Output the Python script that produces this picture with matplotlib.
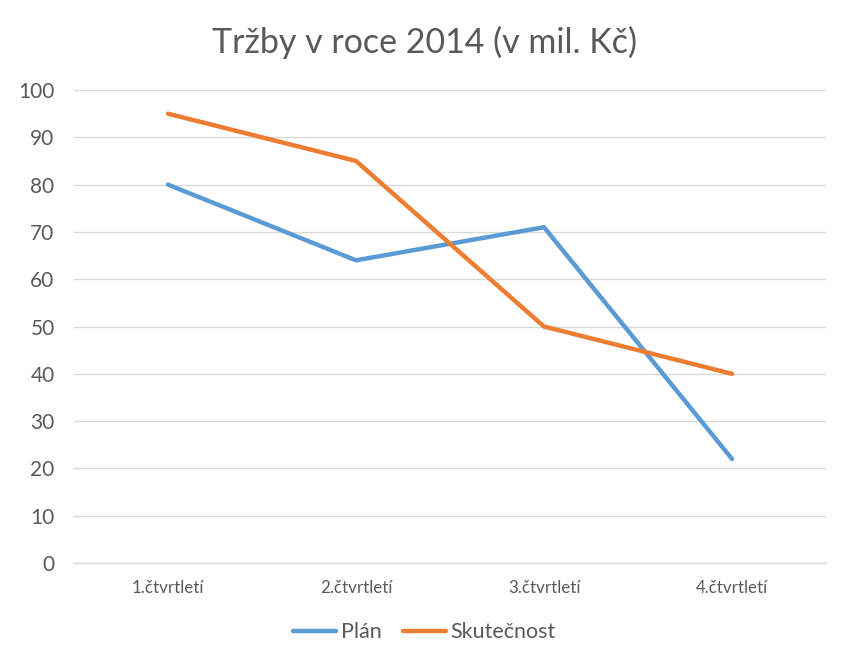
import matplotlib
matplotlib.use("Agg")
import matplotlib.pyplot as plt

categories = ["1.čtvrtletí", "2.čtvrtletí", "3.čtvrtletí", "4.čtvrtletí"]
plan = [80, 64, 71, 22]
skutecnost = [95, 85, 50, 40]
yticks = [0, 10, 20, 30, 40, 50, 60, 70, 80, 90, 100]

plt.rcParams['font.family'] = ['Lato', 'DejaVu Sans']
txt = '#595959'

fig = plt.figure(figsize=(8.49, 6.67), dpi=100)
ax = fig.add_axes([0.0872, 0.1559, 0.8857, 0.7091])
x = list(range(len(categories)))
ax.plot(x, plan, color='#5B9BD5', lw=3.2, label='Plán', solid_capstyle='round')
ax.plot(x, skutecnost, color='#ED7D31', lw=3.2, label='Skutečnost', solid_capstyle='round')
ax.set_xlim(-0.5, 3.5)
ax.set_ylim(0, 100)
ax.set_yticks(yticks)
ax.set_xticks(x)
ax.set_xticklabels(categories, fontsize=12.2, color=txt)
ax.tick_params(axis='y', labelsize=15, labelcolor=txt, length=0, pad=14)
ax.tick_params(axis='x', length=0, pad=12)
ax.grid(axis='y', color='#D9D9D9', lw=1)
ax.set_axisbelow(True)
for s in ['top', 'right', 'left']:
    ax.spines[s].set_visible(False)
ax.spines['bottom'].set_color('#D9D9D9')
ax.spines['bottom'].set_linewidth(1)
fig.text(0.5, 0.937, 'Tržby v roce 2014 (v mil. Kč)', ha='center', va='center', fontsize=24.5, color=txt)
leg = fig.legend(loc='center', bbox_to_anchor=(0.5, 0.052), ncol=2, frameon=False, fontsize=15.5,
                 handlelength=2.0, columnspacing=1.0, handletextpad=0.2)
for t in leg.get_texts():
    t.set_color(txt)
fig.savefig('out.png', dpi=100)
